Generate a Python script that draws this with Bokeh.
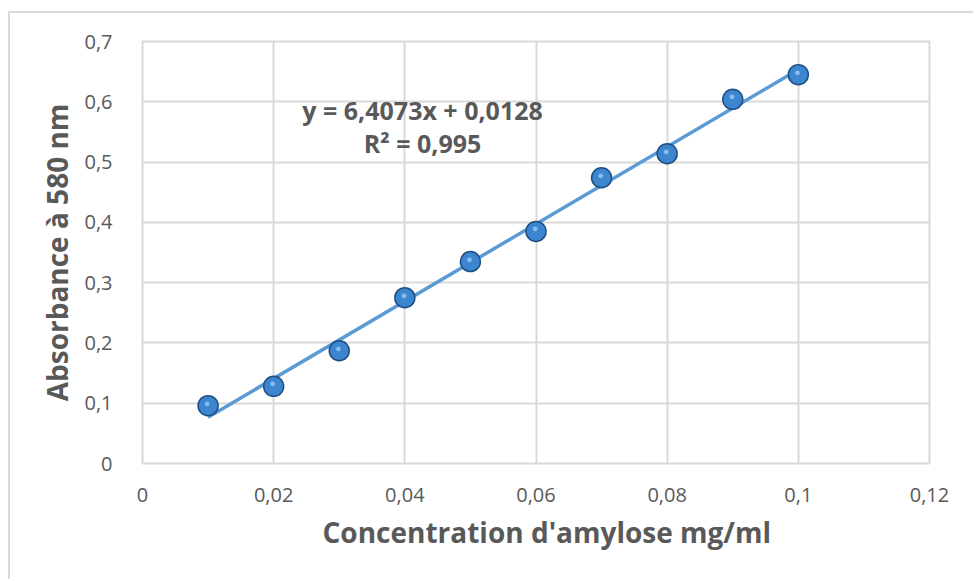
from bokeh.plotting import figure
from bokeh.models import FixedTicker, Label, Range1d, Title
from bokeh.embed import file_html
from bokeh.resources import INLINE

# data
concentration = [0.01, 0.02, 0.03, 0.04, 0.05, 0.06, 0.07, 0.08, 0.09, 0.10]
absorbance = [0.096, 0.128, 0.187, 0.275, 0.335, 0.385, 0.474, 0.514, 0.604, 0.645]
slope = 6.4073
intercept = 0.0128
x_ticks = [0, 0.02, 0.04, 0.06, 0.08, 0.10, 0.12]
x_tick_labels = ["0", "0,02", "0,04", "0,06", "0,08", "0,1", "0,12"]
y_ticks = [0, 0.1, 0.2, 0.3, 0.4, 0.5, 0.6, 0.7]
y_tick_labels = ["0", "0,1", "0,2", "0,3", "0,4", "0,5", "0,6", "0,7"]
equation_text = "y = 6,4073x + 0,0128"
r2_text = "R² = 0,995"
x_title = "Concentration d'amylose mg/ml"
y_title = "Absorbance à 580 nm"

FONT = "Open Sans"
TXT = "#595959"
GRID = "#d9d9d9"

p = figure(width=965, height=568, output_backend="svg", toolbar_location=None,
           x_range=Range1d(0, 0.12), y_range=Range1d(0, 0.7),
           min_border_left=132, min_border_right=46, min_border_top=28, min_border_bottom=118)
p.styles = {"border-left": "2px solid #d9d9d9", "border-top": "2px solid #d9d9d9",
            "margin-top": "11px", "margin-left": "8px"}

p.outline_line_color = GRID
p.outline_line_width = 2
p.background_fill_color = "white"
p.border_fill_color = "white"

for ax, ticks, labels in ((p.xaxis[0], x_ticks, x_tick_labels), (p.yaxis[0], y_ticks, y_tick_labels)):
    ax.ticker = FixedTicker(ticks=ticks)
    ax.major_label_overrides = {t: l for t, l in zip(ticks, labels)}
    ax.axis_line_color = None
    ax.major_tick_line_color = None
    ax.minor_tick_line_color = None
    ax.major_label_text_font = FONT
    ax.major_label_text_font_size = "20px"
    ax.major_label_text_color = TXT
    ax.axis_label_text_font = FONT
    ax.axis_label_text_font_style = "bold"
    ax.axis_label_text_color = TXT
    ax.axis_label_text_font_size = "28px"

p.yaxis.axis_label = y_title
p.xaxis.major_label_standoff = 18
p.yaxis.major_label_standoff = 24
p.yaxis.axis_label_standoff = 5

# x-axis title, centred on the whole chart area (a little right of the frame centre)
p.add_layout(Title(text=x_title, align="left", offset=180, standoff=13,
                   text_font=FONT, text_font_style="bold", text_font_size="28px",
                   text_color=TXT), "below")

p.xgrid.grid_line_color = GRID
p.ygrid.grid_line_color = GRID
p.xgrid.grid_line_width = 2
p.ygrid.grid_line_width = 2

# trendline
x0, x1 = concentration[0], concentration[-1]
p.line([x0, x1], [slope * x0 + intercept, slope * x1 + intercept], line_color="#5b9bd5", line_width=3.5)

# spheres
p.scatter(concentration, absorbance, size=20, marker="circle",
          fill_color="#3c86cf", line_color="#1f4f82", line_width=1.5)
p.text(concentration, absorbance, text=["●"] * len(concentration), x_offset=-1, y_offset=-3,
       text_align="center", text_baseline="middle", text_font_size="11px",
       text_color="#9fd0f7", text_alpha=0.75)

p.add_layout(Label(x=0.0427, y=0.586, text=equation_text, text_align="center", text_baseline="middle",
                   text_font=FONT, text_font_style="bold", text_font_size="25px", text_color=TXT))
p.add_layout(Label(x=0.0427, y=0.531, text=r2_text, text_align="center", text_baseline="middle",
                   text_font=FONT, text_font_style="bold", text_font_size="25px", text_color=TXT))

open("out.html", "w").write(file_html(p, INLINE))
